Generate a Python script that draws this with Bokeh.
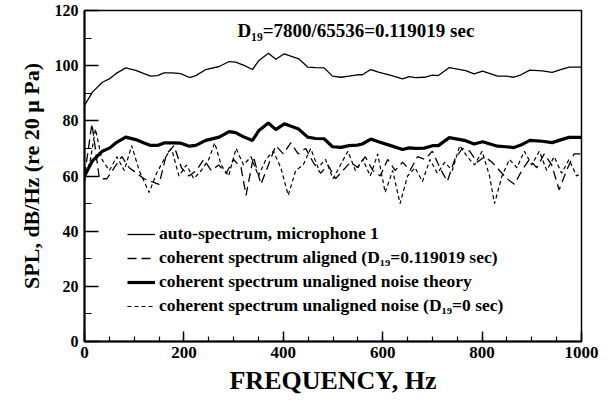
from bokeh.plotting import figure
from bokeh.models import Legend, LegendItem, Label, FixedTicker, Range1d
from bokeh.embed import file_html
from bokeh.resources import INLINE

# ---- data ----
freq_auto = [0, 16, 36, 50, 63, 83, 103, 120, 133, 147, 160, 177, 194, 211, 224, 244, 271, 291, 304,
             321, 338, 351, 370, 385, 402, 431, 449, 465, 482, 499, 516, 532, 549, 559, 576, 593, 613,
             640, 653, 666, 684, 700, 712, 734, 767, 784, 801, 831, 848, 864, 878, 896, 921, 941, 958,
             975, 1000]
spl_auto = [85.6, 90.4, 94.0, 95.2, 97.1, 99.2, 98.3, 97.1, 96.2, 96.4, 97.4, 97.4, 97.1, 95.7, 96.4,
            98.6, 99.7, 101.5, 101.3, 100.1, 98.6, 101.9, 104.5, 102.3, 104.3, 102.5, 99.5, 99.3, 99.2,
            96.2, 95.8, 96.2, 96.7, 96.7, 98.6, 97.6, 96.7, 95.2, 96.0, 95.7, 95.8, 96.6, 96.4, 99.3,
            98.2, 97.0, 98.0, 96.2, 96.2, 95.8, 96.7, 98.4, 98.1, 97.6, 98.6, 99.5, 99.5]
spl_theory = [60.0, 65.5, 69.0, 70.1, 72.0, 74.1, 73.2, 72.0, 71.1, 71.1, 72.0, 72.0, 71.9, 70.8, 71.1,
              72.9, 74.1, 76.1, 75.7, 74.1, 72.9, 76.5, 79.2, 76.8, 78.9, 77.0, 74.1, 73.6, 73.5,
              70.6, 70.4, 71.0, 71.2, 71.6, 73.4, 72.3, 71.2, 69.6, 70.2, 70.0, 70.1, 71.0, 71.0, 73.9,
              72.8, 71.6, 72.4, 70.8, 70.6, 70.3, 71.2, 72.9, 72.6, 72.1, 73.1, 74.0, 74.0]

freq_aligned = [0, 15, 30, 45, 60, 75, 90, 105, 120, 135, 150, 165, 180, 195, 210, 225, 240, 255, 270,
                285, 300, 315, 325, 340, 355, 370, 385, 400, 415, 430, 445, 460, 475, 490, 505, 520,
                535, 550, 565, 580, 595, 610, 625, 640, 655, 670, 685, 700, 715, 730, 745, 760, 775,
                790, 805, 820, 835, 850, 865, 880, 895, 910, 925, 940, 955, 970, 985, 1000]
spl_aligned = [60, 79, 59, 59, 63, 67, 63, 61, 59, 58, 57, 68, 71, 63, 60, 62, 66, 62, 64,
               61, 66, 63, 53, 67, 57, 64, 71, 68, 72, 68, 70, 65, 61, 64, 59, 62,
               65, 63, 67, 62, 60, 66, 62, 65, 62, 67, 66, 69, 63, 58, 66, 70, 69,
               65, 67, 65, 62, 59, 57, 62, 66, 63, 68, 64, 55, 62, 68, 68]

freq_unaligned = [0, 12, 22, 35, 50, 65, 80, 95, 110, 130, 145, 160, 175, 190, 205, 220, 235, 250, 262,
                  275, 290, 305, 320, 335, 350, 365, 380, 395, 410, 425, 440, 455, 470, 485, 500, 515,
                  530, 545, 560, 575, 590, 605, 620, 635, 650, 665, 680, 695, 710, 725, 740, 755, 770,
                  785, 800, 815, 825, 840, 855, 870, 885, 900, 915, 930, 945, 960, 975, 990, 1000]
spl_unaligned = [58, 66, 77, 66, 62, 67, 62, 71, 62, 54, 61, 66, 70, 60, 64, 59, 62, 66, 72,
                 64, 60, 70, 64, 67, 60, 66, 69, 63, 53, 62, 64, 70, 63, 66, 59, 64,
                 69, 62, 66, 60, 68, 54, 62, 50, 60, 63, 58, 66, 61, 65, 62, 71, 67,
                 64, 69, 60, 50, 60, 66, 63, 69, 64, 69, 62, 67, 61, 66, 60, 61]

x_ticks = [0, 200, 400, 600, 800, 1000]
y_ticks = [0, 20, 40, 60, 80, 100, 120]

legend_labels = ["auto-spectrum, microphone 1",
                 "coherent spectrum aligned (D\u2081\u2089=0.119019 sec)",
                 "coherent spectrum unaligned noise theory",
                 "coherent spectrum unaligned noise (D\u2081\u2089=0 sec)"]
annotation = "D\u2081\u2089=7800/65536=0.119019 sec"

FONT = "Liberation Serif"

p = figure(width=607, height=404, output_backend="svg", toolbar_location=None,
           x_range=Range1d(0, 1000), y_range=Range1d(0, 120),
           min_border_left=84, min_border_right=26, min_border_top=10, min_border_bottom=63)
p.grid.visible = False
p.outline_line_color = "black"
p.outline_line_width = 1.5
p.background_fill_color = "white"
p.border_fill_color = "white"

r_auto = p.line(freq_auto, spl_auto, line_color="black", line_width=1.3)
r_al = p.line(freq_aligned, spl_aligned, line_color="black", line_width=1.3, line_dash="9 5")
r_th = p.line(freq_auto, spl_theory, line_color="black", line_width=3.2)
r_un = p.line(freq_unaligned, spl_unaligned, line_color="black", line_width=1.2, line_dash="4 3")

for ax in (p.xaxis[0], p.yaxis[0]):
    ax.axis_line_width = 2
    ax.axis_line_color = "black"
    ax.major_tick_line_color = "black"
    ax.minor_tick_line_color = "black"
    ax.major_tick_line_width = 1.5
    ax.minor_tick_line_width = 1.2
    ax.major_label_text_font = FONT
    ax.major_label_text_font_style = "bold"
    ax.major_label_text_color = "black"
    ax.axis_label_text_font = FONT
    ax.axis_label_text_font_style = "bold"
    ax.axis_label_text_color = "black"
    ax.major_tick_out = 0
    ax.minor_tick_out = 0

p.xaxis.ticker = FixedTicker(ticks=x_ticks, minor_ticks=list(range(0, 1001, 50)))
p.yaxis.ticker = FixedTicker(ticks=y_ticks, minor_ticks=list(range(0, 121, 10)))
p.xaxis.major_tick_in = 10
p.xaxis.minor_tick_in = 5
p.yaxis.major_tick_in = 14
p.yaxis.minor_tick_in = 7
p.xaxis.major_label_text_font_size = "17px"
p.yaxis.major_label_text_font_size = "16px"
p.xaxis.major_label_standoff = 5
p.yaxis.major_label_standoff = 6
p.xaxis.axis_label = "FREQUENCY, Hz"
p.yaxis.axis_label = "SPL, dB/Hz (re 20 \u03bc Pa)"
p.xaxis.axis_label_text_font_size = "26px"
p.yaxis.axis_label_text_font_size = "22px"
p.xaxis.axis_label_standoff = 5
p.yaxis.axis_label_standoff = 8

legend = Legend(items=[LegendItem(label=legend_labels[0], renderers=[r_auto]),
                       LegendItem(label=legend_labels[1], renderers=[r_al]),
                       LegendItem(label=legend_labels[2], renderers=[r_th]),
                       LegendItem(label=legend_labels[3], renderers=[r_un])],
                location=(43, 25), border_line_color=None, background_fill_alpha=0,
                padding=0, margin=0, spacing=3, glyph_width=28, glyph_height=20,
                label_height=20, label_standoff=4,
                label_text_font=FONT, label_text_font_style="bold",
                label_text_font_size="17.5px", label_text_color="black")
p.add_layout(legend)

p.add_layout(Label(x=308, y=112.7, text=annotation, text_font=FONT, text_font_style="bold",
                   text_font_size="19px", text_baseline="middle", text_color="black"))

open("out.html", "w").write(file_html(p, INLINE))
